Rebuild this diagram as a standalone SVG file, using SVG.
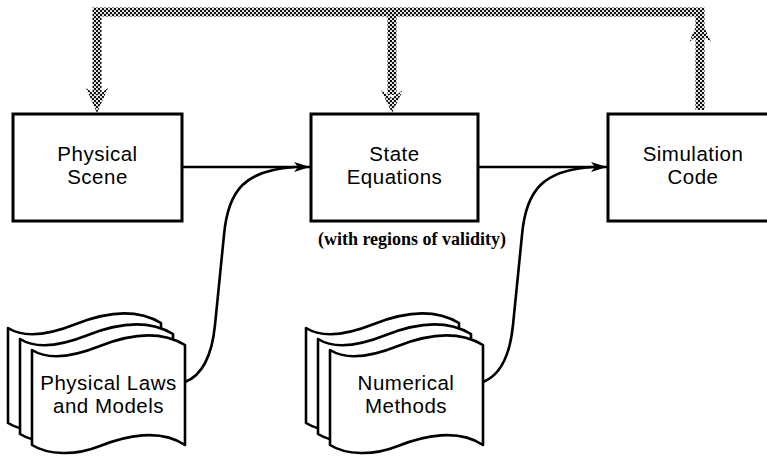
<svg xmlns="http://www.w3.org/2000/svg" xmlns:xlink="http://www.w3.org/1999/xlink" width="767" height="459" viewBox="0 0 767 459">
<style>
.box{fill:#fff;stroke:#000;stroke-width:3}
.page{fill:#fff;stroke:#000;stroke-width:2.6;stroke-linejoin:round}
.lbl{font-family:"Liberation Sans",Arial,sans-serif;font-size:20.5px;letter-spacing:0.5px;fill:#000;text-anchor:middle}
.cap{font-family:"Liberation Serif","Times New Roman",serif;font-size:18px;font-weight:bold;fill:#000;text-anchor:middle}
.flow{fill:none;stroke:#000;stroke-width:2.6}
.fb{fill:none;stroke:url(#hatch);stroke-width:9}
.fbh{fill:url(#hatch);stroke:none}
</style>
<defs>
<pattern id="hatch" width="4" height="4" patternUnits="userSpaceOnUse">
<rect width="4" height="4" fill="#111"/>
<circle cx="1" cy="1" r="1.05" fill="#fff"/>
<circle cx="3" cy="3" r="1.05" fill="#fff"/>
</pattern>
<marker id="arr" markerWidth="18" markerHeight="12" refX="16" refY="6" orient="auto" markerUnits="userSpaceOnUse">
<path d="M0,1 L16,6 L0,11 L4,6 Z" fill="#000"/>
</marker>
<path id="pg" d="M32,350 C48,360 70,358 100,346 C130,334 160,330 185,345 L185,445 C160,428 125,436 100,446 C75,456 48,455 32,445 Z"/>
</defs>
<rect width="767" height="459" fill="#fff"/>

<g id="connectors">
<path class="fb" d="M97,95 L97,12 L700,12 L700,110"/>
<path class="fb" d="M392,12 L392,95"/>
<polygon class="fbh" points="86,88 97,113 108,88 97,96"/>
<polygon class="fbh" points="381,90 392,113 403,90 392,98"/>
<polygon class="fbh" points="689,42 700,18 711,42 700,34"/>
<path class="flow" d="M182,167 L310,167" marker-end="url(#arr)"/>
<path class="flow" d="M478,167 L607,167" marker-end="url(#arr)"/>
<path class="flow" d="M185,382 C203,375 212,355 215,325 L224,235 C228,190 245,170 295,167"/>
<path class="flow" d="M483,382 C501,375 510,355 513,325 L522,235 C526,190 543,170 593,167"/>
</g>

<g id="physical-scene">
<rect class="box" x="13" y="114" width="169" height="107"/>
<text class="lbl" x="97.5" y="161">Physical</text>
<text class="lbl" x="97.5" y="184">Scene</text>
</g>

<g id="state-equations">
<rect class="box" x="311" y="114" width="167" height="107"/>
<text class="lbl" x="394.5" y="161">State</text>
<text class="lbl" x="394.5" y="184">Equations</text>
</g>

<g id="validity-note">
<text class="cap" x="412" y="245">(with regions of validity)</text>
</g>

<g id="simulation-code">
<rect class="box" x="608" y="114" width="180" height="107"/>
<text class="lbl" x="693" y="161">Simulation</text>
<text class="lbl" x="693" y="184">Code</text>
</g>

<g id="physical-laws">
<use xlink:href="#pg" class="page" transform="translate(-24,-22)"/>
<use xlink:href="#pg" class="page" transform="translate(-12,-11)"/>
<use xlink:href="#pg" class="page"/>
<text class="lbl" x="108.5" y="390">Physical Laws</text>
<text class="lbl" x="108.5" y="413">and Models</text>
</g>

<g id="numerical-methods">
<g transform="translate(298,0)">
<use xlink:href="#pg" class="page" transform="translate(-24,-22)"/>
<use xlink:href="#pg" class="page" transform="translate(-12,-11)"/>
<use xlink:href="#pg" class="page"/>
</g>
<text class="lbl" x="406" y="390">Numerical</text>
<text class="lbl" x="406" y="413">Methods</text>
</g>
</svg>
